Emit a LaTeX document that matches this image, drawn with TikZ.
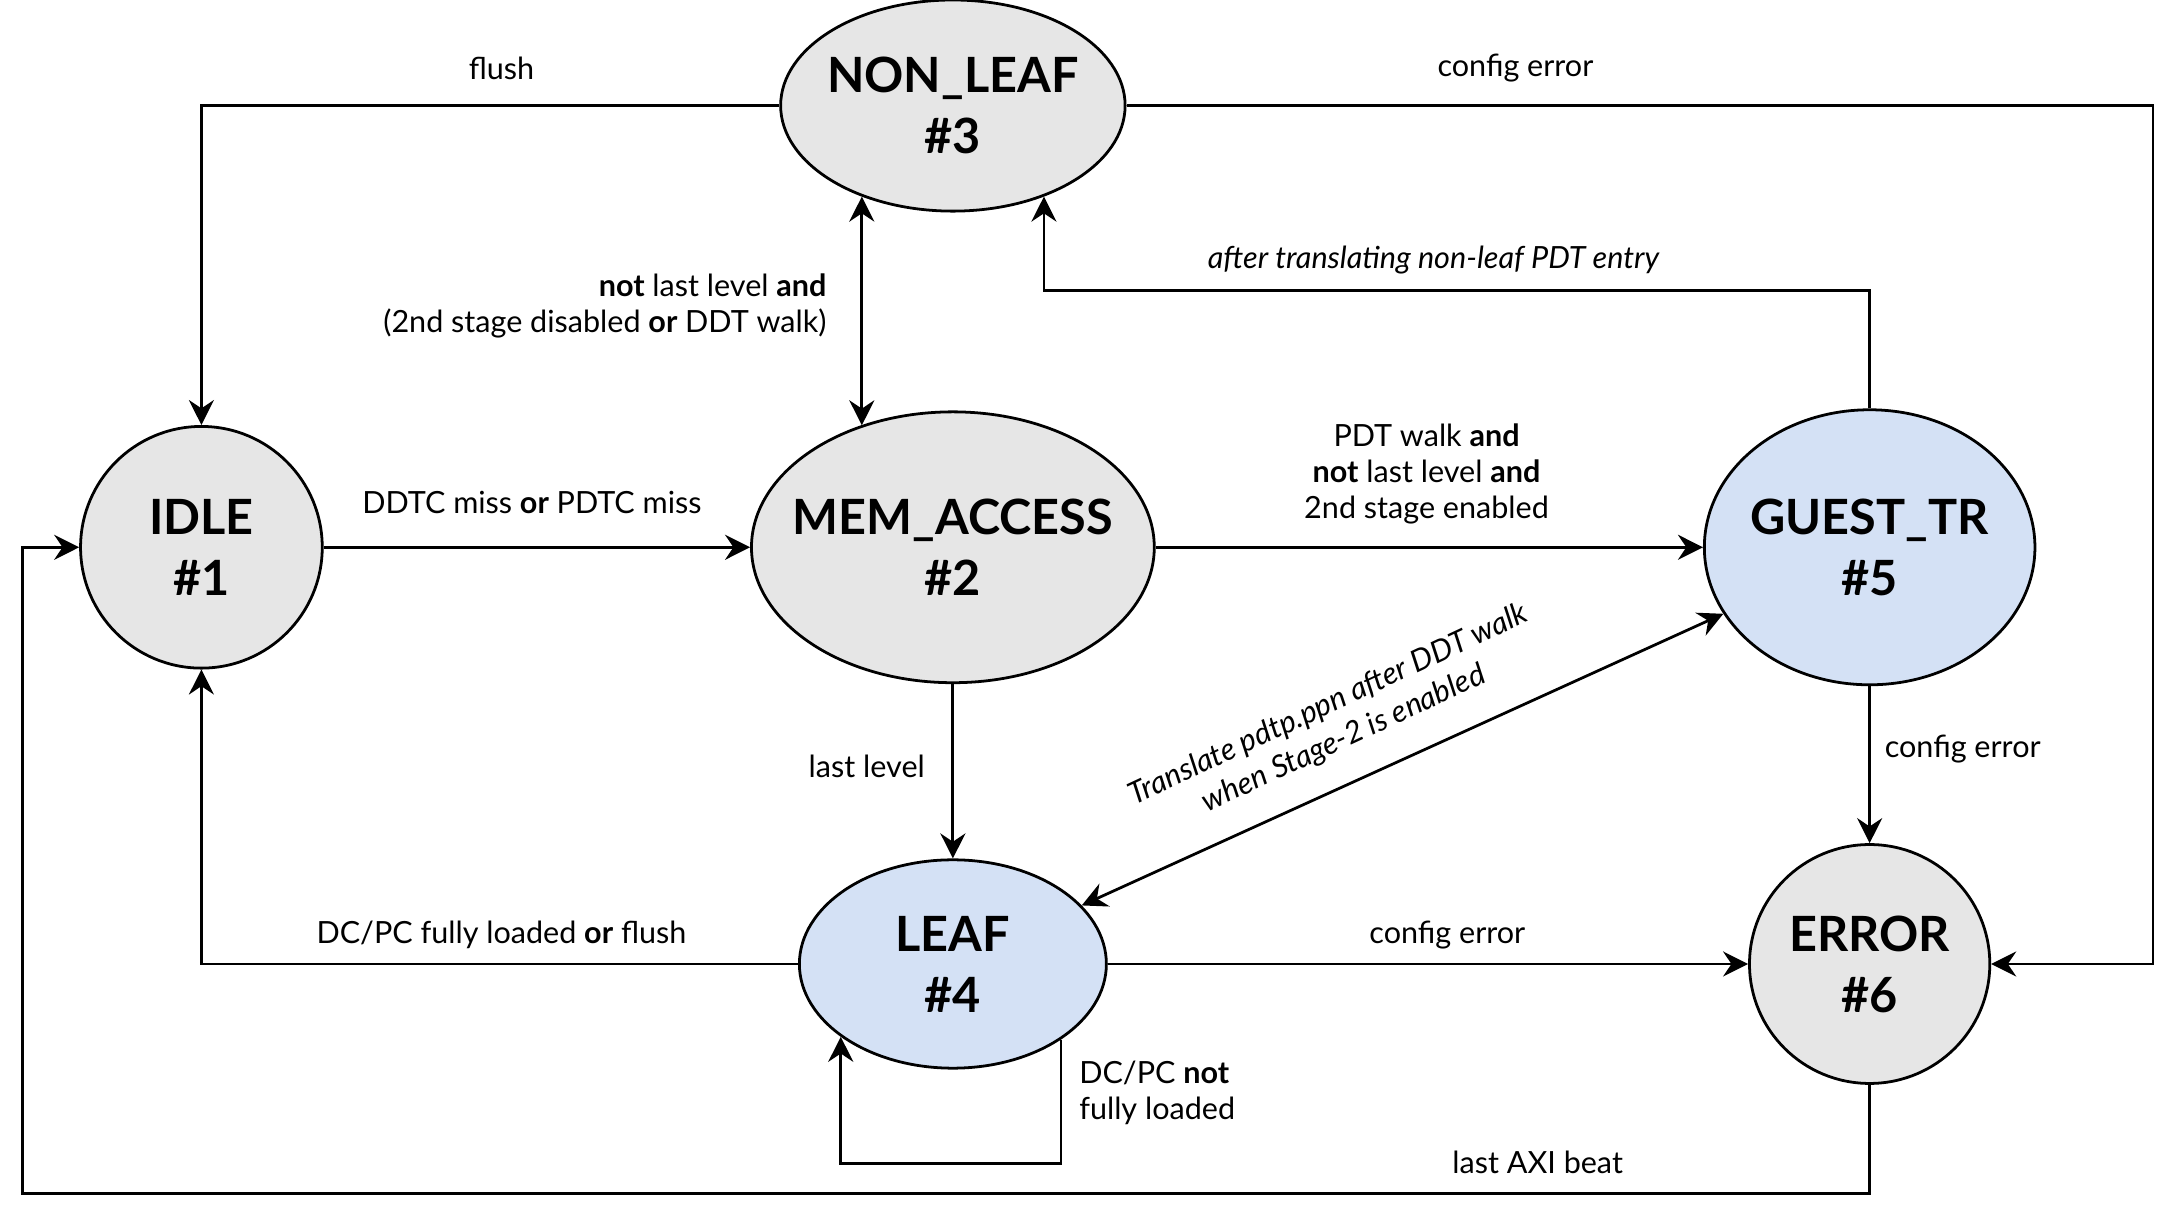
\documentclass[tikz,border=0pt]{standalone}
\usepackage{fontspec}
\setmainfont{Lato}
\usepackage{xcolor}
\usepackage{tikz}
\usetikzlibrary{positioning, shapes.geometric, arrows.meta}
\definecolor{stategray}{HTML}{E6E6E6}
\definecolor{stateblue}{HTML}{D4E1F5}

\begin{document}
\begin{tikzpicture}[x=1pt, y=-1pt, line width=2pt,
    >={Stealth[length=18pt,width=18pt,inset=6pt]}]
    \tikzstyle{state}=[ellipse, draw=black, inner sep=0pt, line width=2pt]
    \tikzstyle{statetext}=[font=\fontsize{35}{44}\selectfont\bfseries, align=center]
    \tikzstyle{cond}=[font=\fontsize{22}{26}\selectfont, align=center, inner sep=0pt]
    \useasboundingbox (0,0) rectangle (1568,877);

    \node[state, fill=stategray, minimum width=174pt, minimum height=174pt,
        label={[statetext]center:IDLE\\\#1}] (idle) at (145,394) {};
    \node[state, fill=stategray, minimum width=290pt, minimum height=195pt,
        label={[statetext]center:MEM\_ACCESS\\\#2}] (mem) at (686,394) {};
    \node[state, fill=stategray, minimum width=248pt, minimum height=152pt,
        label={[statetext]center:NON\_LEAF\\\#3}] (nonleaf) at (686,76) {};
    \node[state, fill=stateblue, minimum width=221pt, minimum height=150pt,
        label={[statetext]center:LEAF\\\#4}] (leaf) at (686,694) {};
    \node[state, fill=stateblue, minimum width=238pt, minimum height=198pt,
        label={[statetext]center:GUEST\_TR\\\#5}] (guest) at (1346,394) {};
    \node[state, fill=stategray, minimum width=173pt, minimum height=172pt,
        label={[statetext]center:ERROR\\\#6}] (error) at (1346,694) {};

    \draw[->] (nonleaf.west) -| (idle.north);
    \draw[->] (nonleaf.east) -- ++(739,0) |- (error.east);
    \draw[<->] (nonleaf.225) -- (nonleaf.225 |- mem.127);
    \draw[->] (guest.north) -- ++(0,-85) -| (nonleaf.315);
    \draw[->] (idle.east) -- (mem.west);
    \draw[->] (mem.east) -- (guest.west);
    \draw[->] (mem.south) -- (leaf.north);
    \draw[<->] (guest) -- (leaf);
    \draw[->] (guest.south) -- (error.north);
    \draw[->] (leaf.west) -| (idle.south);
    \draw[->] (leaf.east) -- (error.west);
    \draw[->] (leaf.325) -- ++(0,89) -| (leaf.213);
    \draw[->] (error.south) -- ++(0,78) -- ++(-1330,0) |- (idle.west);

    \node[cond] (cflush) at (361,49) {flush};
    \node[cond] (cerrtop) at (1091,49) {config error};
    \node[cond, align=right, anchor=east] (cnotlast) at (596,220)
        {\textbf{not} last level \textbf{and}\\(2nd stage disabled \textbf{or} DDT walk)};
    \node[cond, font=\fontsize{22}{26}\selectfont\itshape] (cafter) at (1032,187)
        {after translating non-leaf PDT entry};
    \node[cond] (cmiss) at (383,362) {DDTC miss \textbf{or} PDTC miss};
    \node[cond] (cpdt) at (1027,341)
        {PDT walk \textbf{and}\\\textbf{not} last level \textbf{and}\\2nd stage enabled};
    \node[cond] (clast) at (624,552) {last level};
    \node[cond, font=\fontsize{22}{27}\selectfont\itshape, rotate=25] (ctrans) at (962,520)
        {Translate pdtp.ppn after DDT walk\\when Stage-2 is enabled};
    \node[cond] (cerrguest) at (1413,539) {config error};
    \node[cond] (cloaded) at (361,673) {DC/PC fully loaded \textbf{or} flush};
    \node[cond] (cerrleaf) at (1042,673) {config error};
    \node[cond, align=left, anchor=west] (cnotloaded) at (776,787)
        {DC/PC \textbf{not}\\fully loaded};
    \node[cond] (caxi) at (1107,837) {last AXI beat};
\end{tikzpicture}
\end{document}
